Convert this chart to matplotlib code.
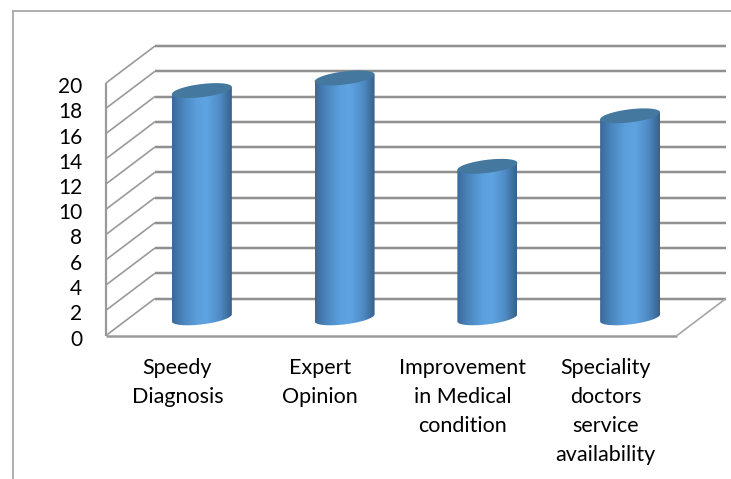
import numpy as np
import matplotlib
matplotlib.use("Agg")
import matplotlib.pyplot as plt
from matplotlib.colors import LinearSegmentedColormap
from matplotlib.patches import Polygon
from matplotlib.transforms import ScaledTranslation

categories = ["Speedy\nDiagnosis", "Expert\nOpinion",
              "Improvement\nin Medical\ncondition",
              "Speciality\ndoctors\nservice\navailability"]
values = [18, 19, 12, 16]
y_ticks = list(range(0, 21, 2))

# Oblique projection: how far the back wall is shifted from the front plane
DEPTH_X = 0.343
DEPTH_Y = 2.93
BAR_HALF = 0.21
BAR_BASE = 1.4
CAP_MINOR = 0.52
CAP_TILT = 0.28
Y_TOP = 24  # headroom above the scale so the tallest cap and back wall fit

GRID = "#8e8e8e"
GLOW = "#dcdcdc"
FRAME = "#a8a8a8"

plt.rcParams["font.family"] = ["Lato", "DejaVu Sans"]

fig = plt.figure(figsize=(7.31, 4.79), dpi=100, facecolor="white")
W, H = 731, 479
ax = fig.add_axes([106 / W, 1 - 335.5 / H, 571 / W, 252.5 / H * Y_TOP / 20])
ax.set_xlim(0, 4)
ax.set_ylim(0, Y_TOP)
ax.patch.set_visible(False)
for s in ax.spines.values():
    s.set_visible(False)


def wall_line(xs, ys, color=GRID, lw=1.4, z=1, glow=True):
    if glow:
        ax.plot(xs, ys, color=GLOW, lw=lw + 1.2, clip_on=False, zorder=z,
                solid_capstyle="butt")
    ax.plot(xs, ys, color=color, lw=lw, clip_on=False, zorder=z + 0.1,
            solid_capstyle="butt")


# Back wall gridlines and the matching diagonals on the side wall
for v in y_ticks:
    wall_line([DEPTH_X, 4 + DEPTH_X], [v + DEPTH_Y, v + DEPTH_Y])
    wall_line([0, DEPTH_X], [v, v + DEPTH_Y], glow=False, lw=1.2, color="#9a9a9a")

# Side wall edge and floor outline
wall_line([0, 0], [0, 20], lw=1.6, glow=False, color="#9a9a9a")
wall_line([0, 4], [0, 0], lw=1.8, glow=False, color="#9a9a9a")
wall_line([4, 4 + DEPTH_X], [0, DEPTH_Y], lw=1.2, glow=False, color="#a6a6a6")

# Cylinders: shaded body clipped to the outline, flat tilted cap on top
shade = LinearSegmentedColormap.from_list(
    "cylinder",
    [(0.0, "#3a6898"), (0.18, "#4a85bd"), (0.42, "#5b9fdc"), (0.58, "#5fa4e2"),
     (0.8, "#4f8cc6"), (0.93, "#3f70a0"), (1.0, "#35608a")])
ramp = np.linspace(0, 1, 256).reshape(1, -1)
t = np.linspace(0, 2 * np.pi, 181)

for i, v in enumerate(values):
    cx = i + 0.5 + DEPTH_X / 2
    top = BAR_BASE + v
    ex = cx + BAR_HALF * np.cos(t)
    wobble = CAP_MINOR * np.sin(t) + CAP_TILT * np.cos(t)

    # Lower half of the base ellipse closes the body at the bottom
    low = t[(t >= np.pi)]
    bx = cx + BAR_HALF * np.cos(low)
    by = BAR_BASE + CAP_MINOR * np.sin(low) + CAP_TILT * np.cos(low)
    tx = cx + BAR_HALF * np.array([1, -1])
    ty = top + CAP_TILT * np.array([1, -1])
    outline = np.column_stack([np.r_[bx, tx], np.r_[by, ty]])

    img = ax.imshow(ramp, cmap=shade, aspect="auto", zorder=3,
                    extent=(cx - BAR_HALF, cx + BAR_HALF, BAR_BASE - 1, top + 1))
    clip = Polygon(outline, closed=True, transform=ax.transData)
    img.set_clip_path(clip)

    ax.fill(ex, top + wobble, color="#44789f", lw=0, zorder=4, clip_on=False)

ax.set_xlim(0, 4)
ax.set_ylim(0, Y_TOP)

ax.set_yticks(y_ticks)
ax.set_yticklabels([str(v) for v in y_ticks])
ax.set_xticks([i + 0.5 for i in range(len(categories))])
ax.set_xticklabels(categories, linespacing=1.56, ha="center", va="top")
ax.tick_params(axis="both", length=0, labelcolor="black")
ax.tick_params(axis="y", pad=17, labelsize=15)
ax.tick_params(axis="x", pad=16.5, labelsize=15.5)

# The value labels sit slightly below their gridline ends
nudge = ScaledTranslation(0, -2 / 100, fig.dpi_scale_trans)
for lbl in ax.get_yticklabels():
    lbl.set_transform(lbl.get_transform() + nudge)

# Outer chart frame, open on the right and at the bottom
fig.add_artist(plt.Line2D([13.3 / W, 13.3 / W], [0, 1 - 11 / H], color=FRAME, lw=1.3))
fig.add_artist(plt.Line2D([13.3 / W, 1], [1 - 11 / H, 1 - 11 / H], color=FRAME, lw=1.3))

fig.savefig("out.png", dpi=100)
